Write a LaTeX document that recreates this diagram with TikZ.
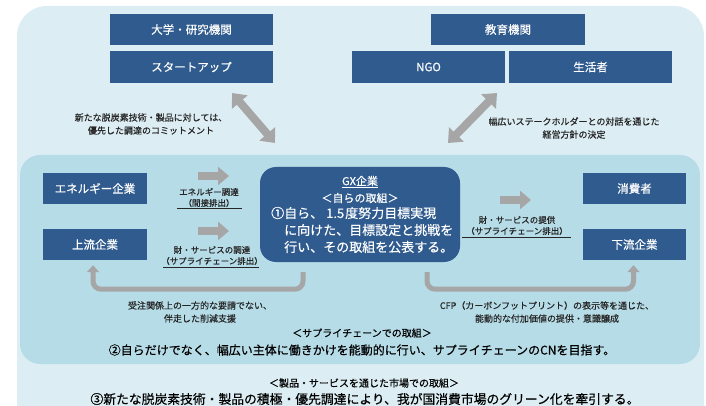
\documentclass[tikz,border=0pt]{standalone}
\usepackage{fontspec}
\setmainfont{Noto Sans CJK JP}[FakeBold=0.4]
\usetikzlibrary{arrows.meta,calc}
\definecolor{outerbg}{HTML}{DCEEF4}
\definecolor{innerbg}{HTML}{B6DCE7}
\definecolor{boxblue}{HTML}{2F5B8E}
\definecolor{arrowgray}{HTML}{A6A6A6}
\definecolor{txt}{HTML}{262626}
\begin{document}
\begin{tikzpicture}[x=1pt,y=-1pt,
  entity/.style={fill=boxblue, text=white, font=\fontsize{11.5}{13}\selectfont, inner sep=0pt},
  note/.style={text=txt, font=\fontsize{9}{13}\selectfont, align=center, inner sep=0pt},
  flow/.style={text=txt, font=\fontsize{8.5}{11}\selectfont, inner sep=0pt},
  gxline/.style={text=white, inner sep=0pt},
  main/.style={text=black, inner sep=0pt},
  dblarrow/.style={draw=arrowgray, line width=8pt, {Triangle[length=12pt,width=20pt]}-{Triangle[length=12pt,width=20pt]}},
  blockarrow/.style={draw=arrowgray, line width=8pt, -{Triangle[length=11pt,width=18pt]}},
  elbow/.style={draw=arrowgray, line width=5pt, rounded corners=8pt, -{Triangle[length=7pt,width=12pt]}},
  uline/.style={draw=txt, line width=0.7pt}]
\useasboundingbox (0,0) rectangle (706,406);
\begin{scope}
\clip (0,0) rectangle (706,406);
\fill[outerbg, rounded corners=30pt] (17,6) rectangle (704,440);
\end{scope}
\fill[innerbg, rounded corners=20pt] (20,155) rectangle (700,364);

% top stakeholders
\node[entity, minimum width=163pt, minimum height=31pt] (univ) at (191.5,29.5) {大学・研究機関};
\node[entity, minimum width=163pt, minimum height=32pt] (startup) at (191.5,67) {スタートアップ};
\node[entity, minimum width=154pt, minimum height=31pt] (edu) at (508,29.5) {教育機関};
\node[entity, minimum width=153pt, minimum height=32pt] (ngo) at (428.5,67) {NGO};
\node[entity, minimum width=163pt, minimum height=32pt] (life) at (590.5,67) {生活者};

% double arrows
\coordinate (d1a) at (232,93);
\coordinate (d1b) at (275,143);
\coordinate (d2a) at (497,93);
\coordinate (d2b) at (448,143);
\draw[dblarrow] (d1a) -- (d1b);
\draw[dblarrow] (d2a) -- (d2b);

\node[note] (lnote) at (151,124) {新たな脱炭素技術・製品に対しては、\\優先した調達のコミットメント};
\node[note] (rnote) at (574,128) {幅広いステークホルダーとの対話を通じた\\経営方針の決定};

% supply chain row
\node[entity, minimum width=104pt, minimum height=31pt] (energy) at (95,188.5) {エネルギー企業};
\node[entity, minimum width=104pt, minimum height=31pt] (upstream) at (95,244.5) {上流企業};
\node[entity, minimum width=103pt, minimum height=31pt] (consumer) at (634.5,188.5) {消費者};
\node[entity, minimum width=103pt, minimum height=31pt] (downstream) at (634.5,244.5) {下流企業};

\node[fill=boxblue, rounded corners=16pt, minimum width=200pt, minimum height=95pt, inner sep=0pt] (gx) at (360,214.5) {};
\node[gxline, font=\fontsize{11}{13}\selectfont] (gxt1) at (360,182) {\underline{GX企業}};
\node[gxline, font=\fontsize{11}{13}\selectfont] (gxt2) at (360,198) {＜自らの取組＞};
\node[gxline, font=\fontsize{13}{16}\selectfont, anchor=west] (gxt3) at (271,213) {①自ら、\hspace{3pt}1.5\hspace{1pt}度努力目標実現};
\node[gxline, font=\fontsize{13}{16}\selectfont, anchor=west] (gxt4) at (284,230) {に向けた、目標設定と挑戦を};
\node[gxline, font=\fontsize{13}{16}\selectfont, anchor=west] (gxt5) at (284,247) {行い、その取組を公表する。};

% flow arrows
\coordinate (a1s) at (198,176); \coordinate (a1e) at (229,176);
\coordinate (a2s) at (198,231); \coordinate (a2e) at (229,231);
\coordinate (a3s) at (500,200); \coordinate (a3e) at (531,200);
\draw[blockarrow] (a1s) -- (a1e);
\draw[blockarrow] (a2s) -- (a2e);
\draw[blockarrow] (a3s) -- (a3e);

\node[flow] (f1a) at (209,192) {エネルギー調達};
\node[flow] (f1b) at (209,203) {（間接排出）};
\draw[uline] (177,208.5) -- (242,208.5);
\node[flow] (f2a) at (212,250) {財・サービスの調達};
\node[flow] (f2b) at (212,261) {（サプライチェーン排出）};
\draw[uline] (163,267) -- (259,267);
\node[flow] (f3a) at (517,220) {財・サービスの提供};
\node[flow] (f3b) at (517,231) {（サプライチェーン排出）};
\draw[uline] (462,237) -- (571,237);

% elbow arrows
\draw[elbow] ([xshift=-57pt,yshift=-10pt]gx.south) -- ++(0,17) -| ([xshift=-2pt,yshift=-5pt]upstream.south);
\draw[elbow] ([xshift=67pt,yshift=-10pt]gx.south) -- ++(0,17) -| ([xshift=-1pt,yshift=-5pt]downstream.south);

\node[note] (bl) at (200,312) {受注関係上の一方的な要請でない、\\伴走した削減支援};
\node[note] (br) at (547,312) {CFP（カーボンフットプリント）の表示等を通じた、\\能動的な付加価値の提供・意識醸成};

\node[main, font=\fontsize{10}{12}\selectfont] (sch) at (362,333) {＜サプライチェーンでの取組＞};
\node[main, font=\fontsize{12}{14}\selectfont] (scm) at (362,350) {②自らだけでなく、幅広い主体に働きかけを能動的に行い、サプライチェーンのCNを目指す。};
\node[main, font=\fontsize{10}{12}\selectfont] (mkh) at (364,383) {＜製品・サービスを通じた市場での取組＞};
\node[main, font=\fontsize{12.8}{14}\selectfont] (mkm) at (365,399) {③新たな脱炭素技術・製品の積極・優先調達により、我が国消費市場のグリーン化を牽引する。};
\end{tikzpicture}
\end{document}
